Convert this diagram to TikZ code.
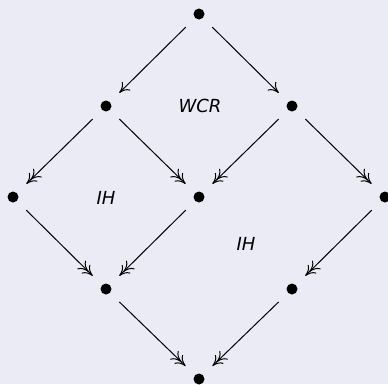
\documentclass[tikz,border=0pt]{standalone}
\usepackage{fontspec}
\setmainfont{DejaVu Sans}
\usetikzlibrary{arrows.meta}
\definecolor{bg}{RGB}{235,235,245}
\tikzset{
  dot/.style={circle,fill=black,inner sep=0pt,minimum size=11pt},
  lab/.style={font=\fontsize{18}{20}\selectfont\itshape,inner sep=0pt},
  red1/.style={line width=1pt,-{To[length=10pt,width=12pt]},shorten <=13pt,shorten >=13pt},
  red2/.style={line width=1pt,-{To[length=10pt,width=12pt,sep=-4pt]To[length=10pt,width=12pt]},shorten <=13pt,shorten >=13pt},
}
\begin{document}
\begin{tikzpicture}[x=1pt,y=-1pt]
\fill[bg] (0,0) rectangle (388,384);
\useasboundingbox (0,0) rectangle (388,384);
\node[dot] (t) at (199,14) {};
\node[dot] (l) at (106,106) {};
\node[dot] (r) at (292,106) {};
\node[dot] (ll) at (13,197) {};
\node[dot] (m) at (199,197) {};
\node[dot] (rr) at (385,197) {};
\node[dot] (bl) at (106,289) {};
\node[dot] (br) at (292,289) {};
\node[dot] (b) at (199,379) {};
\node[lab] (w) at (200,106) {WCR};
\node[lab] (ih1) at (106,198) {IH};
\node[lab] (ih2) at (246,244) {IH};
\draw[red1] (t) -- (l);
\draw[red1] (t) -- (r);
\draw[red2] (l) -- (ll);
\draw[red2] (l) -- (m);
\draw[red2] (r) -- (m);
\draw[red2] (r) -- (rr);
\draw[red2] (ll) -- (bl);
\draw[red2] (m) -- (bl);
\draw[red2] (rr) -- (br);
\draw[red2] (bl) -- (b);
\draw[red2] (br) -- (b);
\end{tikzpicture}
\end{document}
